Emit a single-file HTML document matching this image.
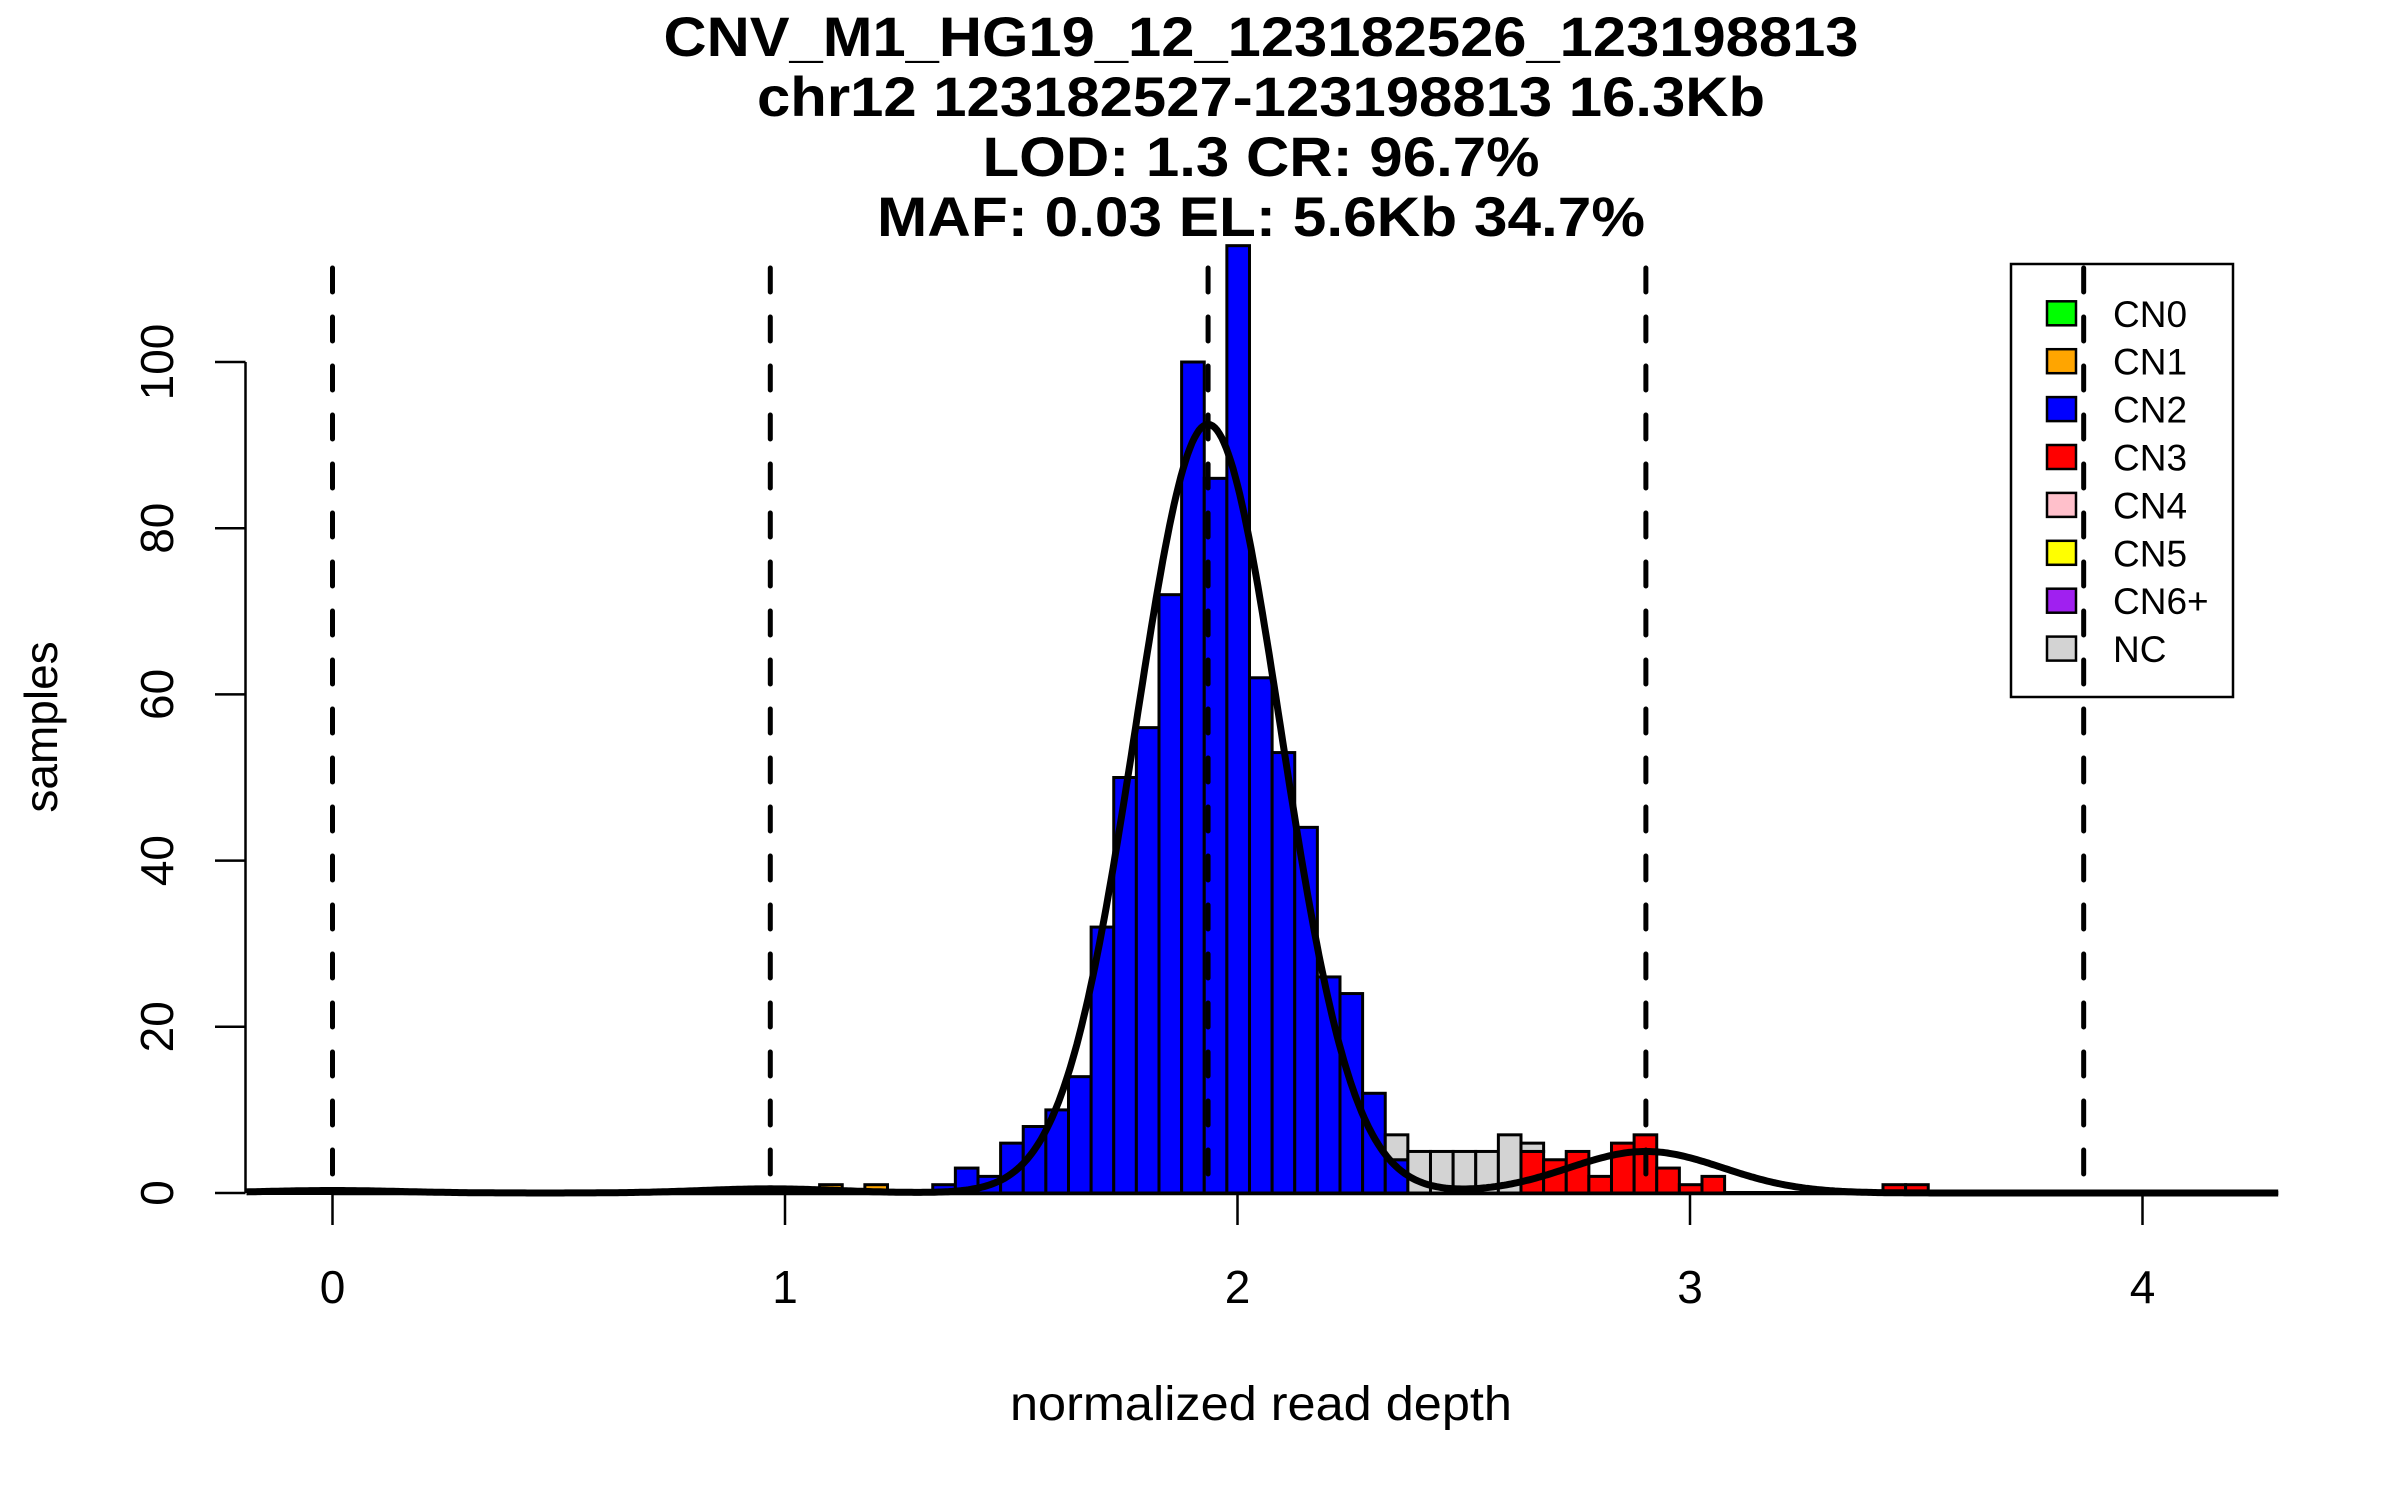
<!DOCTYPE html>
<html><head><meta charset="utf-8"><style>
html,body{margin:0;padding:0;background:#fff;}
svg{display:block;font-family:"Liberation Sans",Arial,sans-serif;}
</style></head><body>
<svg id="chart" width="2400" height="1500" viewBox="0 0 2400 1500" xmlns="http://www.w3.org/2000/svg">
<rect width="2400" height="1500" fill="#fff"/>
<g id="title" font-weight="bold" font-size="56" text-anchor="middle" fill="#000">
<text x="1261" y="56" textLength="1195" lengthAdjust="spacingAndGlyphs">CNV_M1_HG19_12_123182526_123198813</text>
<text x="1261" y="116" textLength="1008" lengthAdjust="spacingAndGlyphs">chr12 123182527-123198813 16.3Kb</text>
<text x="1261" y="176" textLength="557" lengthAdjust="spacingAndGlyphs">LOD: 1.3 CR: 96.7%</text>
<text x="1261" y="236" textLength="768" lengthAdjust="spacingAndGlyphs">MAF: 0.03 EL: 5.6Kb 34.7%</text>
</g>
<g id="bars"></g>
<g id="vlines"></g>
<g id="axes"></g>
<path id="density" fill="none" stroke="#000" stroke-width="7"/>
<text x="1261" y="1420" font-size="48" text-anchor="middle" textLength="502" lengthAdjust="spacingAndGlyphs">normalized read depth</text>
<text transform="translate(57,727) rotate(-90)" font-size="46" text-anchor="middle">samples</text>
<g id="legend"></g>
</svg>
<script>
const binStart = 1.0265;
const binWidth = 0.05;
const cn1Counts = {1:1, 3:1};
const cn2Counts = {6:1,7:3,8:2,9:6,10:8,11:10,12:14,13:32,14:50,15:56,16:72,17:100,18:86,19:114,20:62,21:53,22:44,23:26,24:24,25:12,26:4};
const cn3Counts = {32:5,33:4,34:5,35:2,36:6,37:7,38:3,39:1,40:2,48:1,49:1};
const ncCounts = {26:3,27:5,28:5,29:5,30:5,31:7,32:1};
const xTicks = [0,1,2,3,4];
const yTicks = [0,20,40,60,80,100];
const cutoffs = [0,0.9675,1.935,2.9025,3.87];
const densMeans = [0,0.9675,1.935,2.9025];
const densPeaks = [0.3,0.5,92.5,5];
const densSds = [0.15,0.15,0.16,0.17];
const legendLabels = ["CN0","CN1","CN2","CN3","CN4","CN5","CN6+","NC"];
const legendColors = ["#00ff00","#ffa500","#0000ff","#ff0000","#ffc0cb","#ffff00","#a020f0","#d3d3d3"];

const NS="http://www.w3.org/2000/svg";
function X(v){return 332.5+v*452.5;}
function Y(v){return 1193-v*8.31;}
function mk(tag,attrs,parent){const e=document.createElementNS(NS,tag);for(const k in attrs)e.setAttribute(k,attrs[k]);parent.appendChild(e);return e;}

const bars=document.getElementById('bars');
const bl=mk('line',{x1:X(-0.19),x2:X(4.3),y1:Y(0),y2:Y(0),stroke:'#000','stroke-width':4},bars);


const layers=[[cn1Counts,'#ffa500','cn1'],[cn2Counts,'#0000ff','cn2'],[cn3Counts,'#ff0000','cn3'],[ncCounts,'#d3d3d3','nc']];
for(let k=0;k<60;k++){
  let base=0;
  for(const [counts,col,nm] of layers){
    const c=counts[k]||0;
    if(c>0){
      const x0=binStart+k*binWidth;
      const r=mk('rect',{x:X(x0),y:Y(base+c),width:X(x0+binWidth)-X(x0),height:Y(base)-Y(base+c),fill:col,stroke:'#000','stroke-width':3},bars);
      
      
      base+=c;
    }
  }
}
const vl=document.getElementById('vlines');
cutoffs.forEach((c,i)=>{
  const l=mk('line',{x1:X(c),x2:X(c),y1:268,y2:Y(0)-2,stroke:'#000','stroke-width':5,'stroke-dasharray':'24 25','stroke-linecap':'round'},vl);
  
  
});
const ax=document.getElementById('axes');
const xa=mk('line',{x1:X(0),x2:X(4),y1:1194,y2:1194,stroke:'#000','stroke-width':2.5},ax);


xTicks.forEach(t=>{
  const tk=mk('line',{x1:X(t),x2:X(t),y1:1194,y2:1225,stroke:'#000','stroke-width':2.5},ax);
  
  
  const tx=mk('text',{x:X(t),y:1303,'font-size':46,'text-anchor':'middle'},ax);
  tx.textContent=t;
  
  
});
const ya=mk('line',{x1:245.5,x2:245.5,y1:Y(0),y2:Y(100),stroke:'#000','stroke-width':2.5},ax);


yTicks.forEach(t=>{
  const tk=mk('line',{x1:215,x2:245.5,y1:Y(t),y2:Y(t),stroke:'#000','stroke-width':2.5},ax);
  
  
  const tx=mk('text',{transform:'translate(173,'+Y(t)+') rotate(-90)','font-size':46,'text-anchor':'middle'},ax);
  tx.textContent=t;
  
  
});
let d='';
for(let v=-0.19;v<=4.3;v+=0.005){
  let y=0;
  for(let i=0;i<densMeans.length;i++){const z=(v-densMeans[i])/densSds[i];y+=densPeaks[i]*Math.exp(-0.5*z*z);}
  d+=(d?'L':'M')+X(v).toFixed(1)+','+Y(y).toFixed(1);
}
document.getElementById('density').setAttribute('d',d);
const lg=document.getElementById('legend');
const box=mk('rect',{x:2011,y:264,width:222,height:433,fill:'none',stroke:'#000','stroke-width':2.5},lg);


legendLabels.forEach((lab,i)=>{
  const cy=313.3+47.9*i;
  const sw=mk('rect',{x:2047,y:cy-12,width:29,height:24,fill:legendColors[i],stroke:'#000','stroke-width':2.5},lg);
  
  
  const tx=mk('text',{x:2113,y:cy+13.5,'font-size':37},lg);
  tx.textContent=lab;
  
  
});
</script>
</body></html>
